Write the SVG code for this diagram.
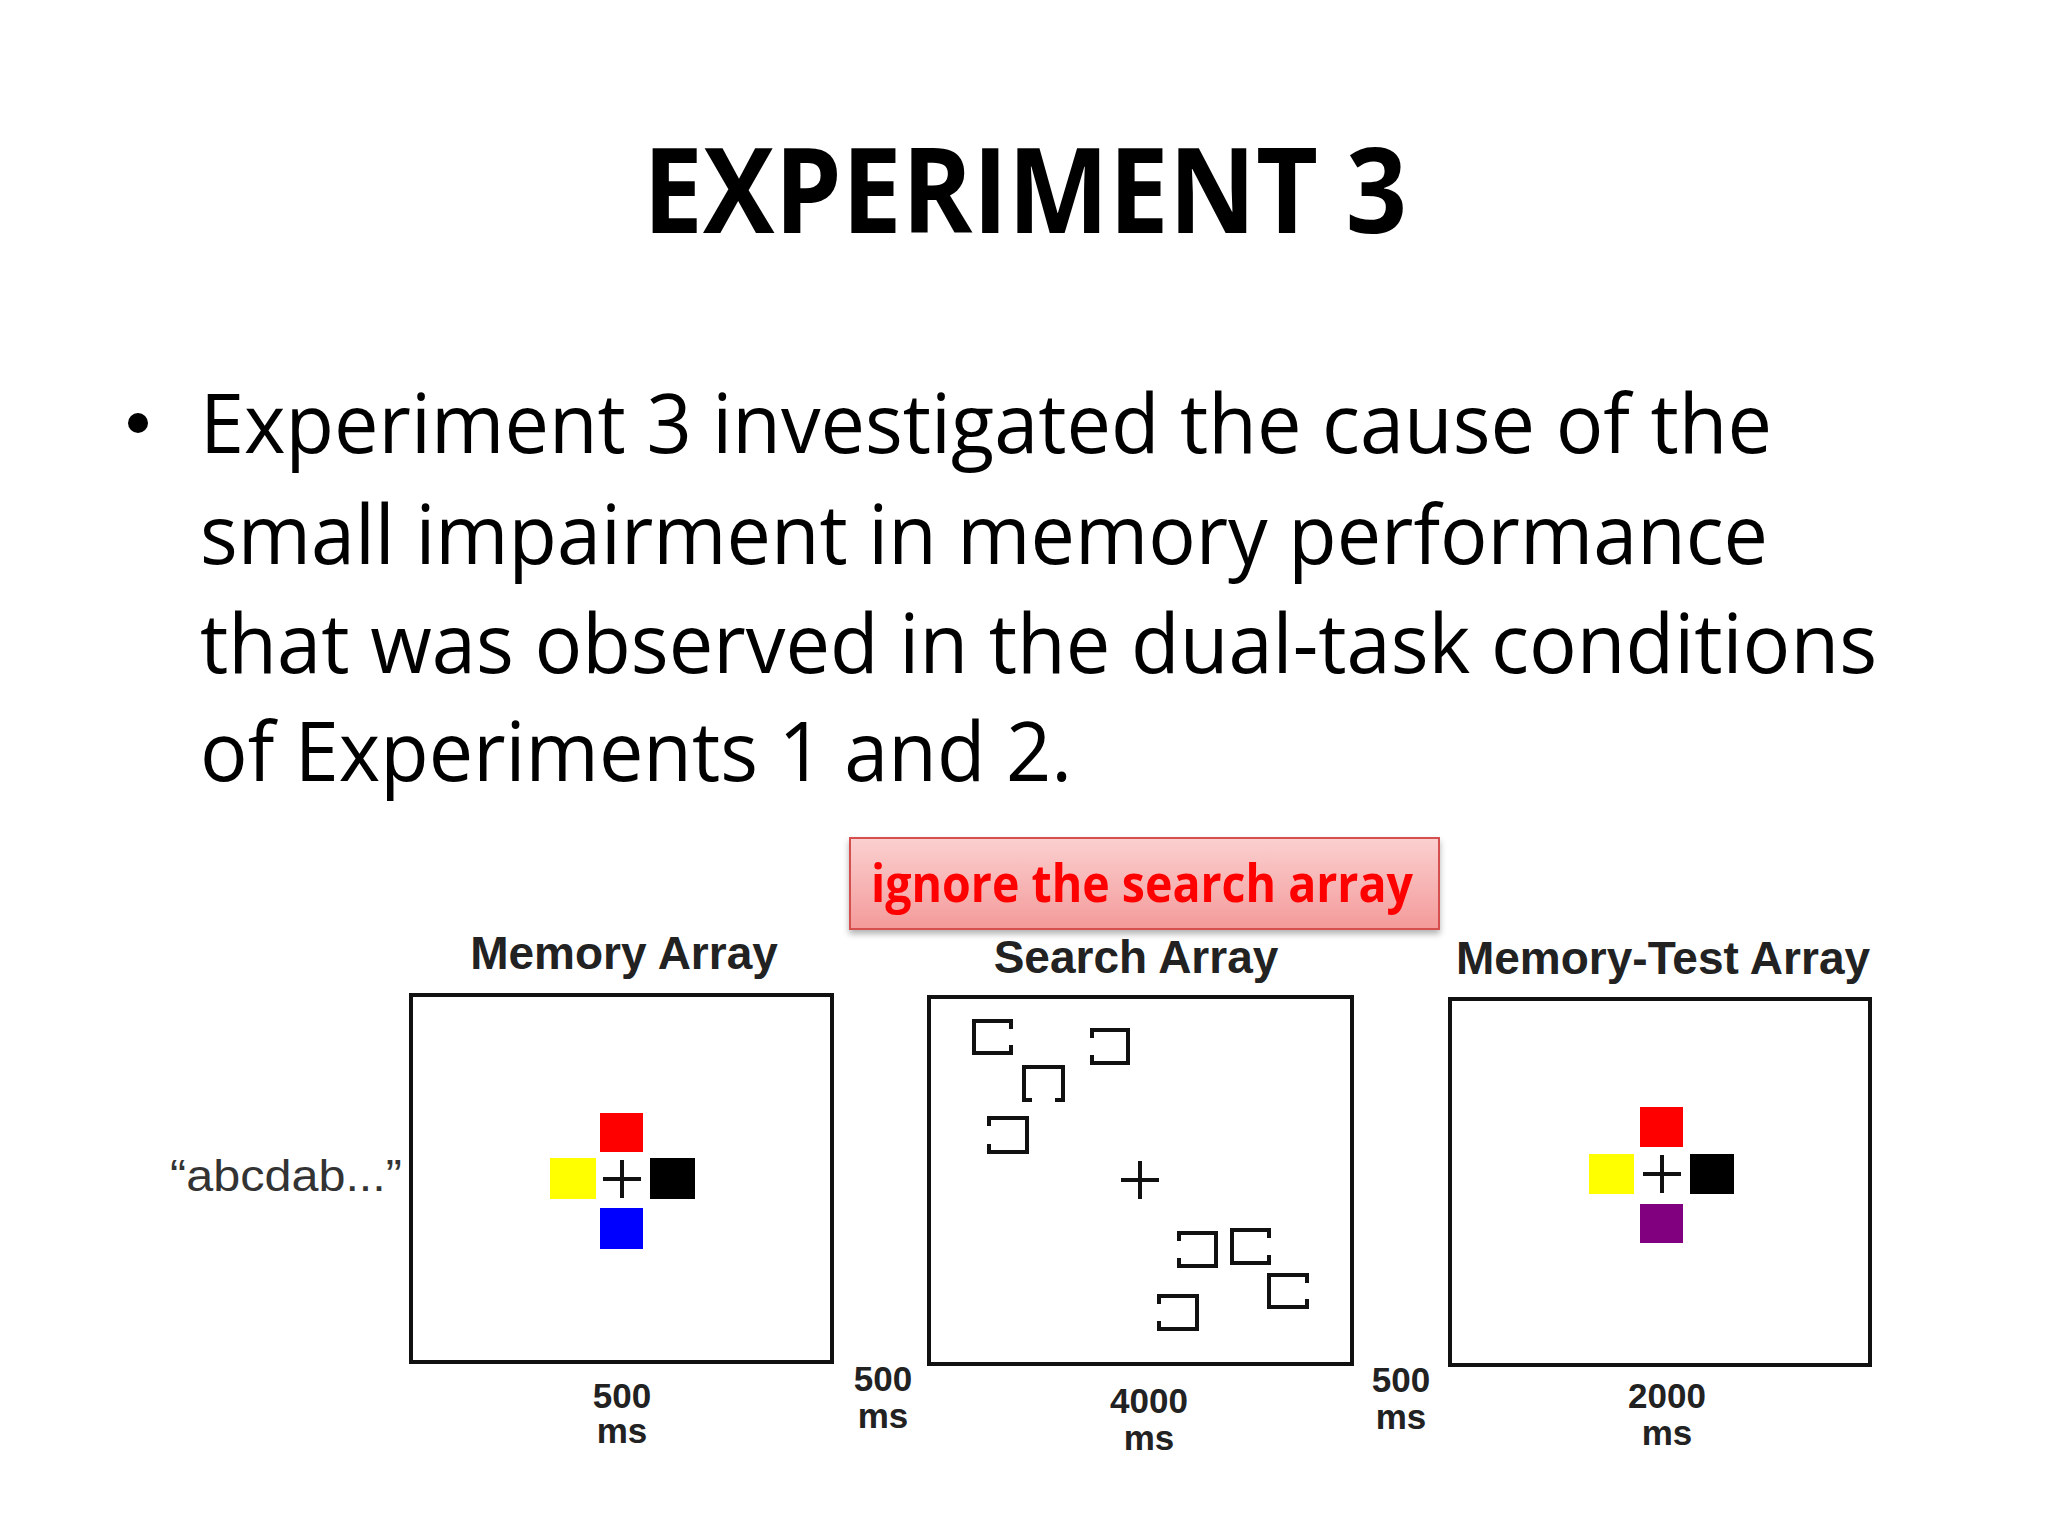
<svg xmlns="http://www.w3.org/2000/svg" width="2048" height="1536" viewBox="0 0 2048 1536">
<defs>
<linearGradient id="rg" x1="0" y1="0" x2="0" y2="1"><stop offset="0" stop-color="#fbd0d0"/><stop offset="1" stop-color="#f49a9a"/></linearGradient>
<filter id="sh" x="-5%" y="-20%" width="110%" height="150%"><feDropShadow dx="0" dy="4" stdDeviation="3" flood-opacity="0.3"/></filter>
</defs>
<style>
.t{font-family:"Open Sans","Noto Sans",sans-serif;fill:#000}
.h{font-family:"Liberation Sans",Arial,sans-serif;font-weight:bold;fill:#222;text-anchor:middle}
.box{fill:#fff;stroke:#111;stroke-width:4}
.br{fill:none;stroke:#111;stroke-width:4}
.pl{stroke:#111;stroke-width:4}
</style>
<rect width="2048" height="1536" fill="#fff"/>
<text class="t" x="1025" y="233" font-size="118" font-weight="bold" text-anchor="middle" textLength="764" lengthAdjust="spacingAndGlyphs">EXPERIMENT 3</text>
<g class="t" font-size="82">
<circle cx="138" cy="423" r="10" fill="#000"/>
<text x="200" y="453" textLength="1572" lengthAdjust="spacingAndGlyphs">Experiment 3 investigated the cause of the</text>
<text x="200" y="564" textLength="1568" lengthAdjust="spacingAndGlyphs">small impairment in memory performance</text>
<text x="200" y="673" textLength="1677" lengthAdjust="spacingAndGlyphs">that was observed in the dual-task conditions</text>
<text x="200" y="781" textLength="872" lengthAdjust="spacingAndGlyphs">of Experiments 1 and 2.</text>
</g>
<g id="callout">
<rect x="850" y="838" width="589" height="91" fill="url(#rg)" stroke="#d65050" stroke-width="2" filter="url(#sh)"/>
<text x="1142" y="902" font-family="Open Sans,Noto Sans,sans-serif" font-weight="bold" font-size="52" fill="#f00" text-anchor="middle" textLength="542" lengthAdjust="spacingAndGlyphs">ignore the search array</text>
</g>
<text x="170" y="1191" font-family="Liberation Sans,Arial,sans-serif" font-size="44" fill="#333" textLength="232" lengthAdjust="spacingAndGlyphs">“abcdab...”</text>
<g id="memory">
<text class="h" x="624" y="969" font-size="46">Memory Array</text>
<rect class="box" x="411" y="995" width="421" height="367"/>
<rect x="600" y="1113" width="43" height="39" fill="#f00"/>
<rect x="550" y="1158" width="46" height="41" fill="#ff0"/>
<rect x="650" y="1158" width="45" height="41" fill="#000"/>
<rect x="600" y="1208" width="43" height="41" fill="#00f"/>
<path class="pl" d="M603 1179H641M622 1160V1198"/>
<text class="h" x="622" y="1408" font-size="35">500</text>
<text class="h" x="622" y="1443" font-size="35">ms</text>
</g>
<g id="gap1"><text class="h" x="883" y="1391" font-size="35">500</text><text class="h" x="883" y="1428" font-size="35">ms</text></g>
<g id="search">
<text class="h" x="1136" y="973" font-size="46">Search Array</text>
<rect class="box" x="929" y="997" width="423" height="367"/>
<path class="br" d="M1011 1029V1021H974V1053H1011V1045"/>
<path class="br" d="M1092 1038V1030H1128V1063H1092V1055"/>
<path class="br" d="M1032 1100H1024V1067H1063V1100H1055"/>
<path class="br" d="M989 1126V1118H1027V1152H989V1144"/>
<path class="pl" d="M1121 1180H1159M1140 1161V1199"/>
<path class="br" d="M1179 1241V1233H1216V1266H1179V1258"/>
<path class="br" d="M1269 1238V1230H1232V1263H1269V1255"/>
<path class="br" d="M1307 1283V1275H1269V1307H1307V1299"/>
<path class="br" d="M1159 1304V1296H1197V1329H1159V1321"/>
<text class="h" x="1149" y="1413" font-size="35">4000</text>
<text class="h" x="1149" y="1450" font-size="35">ms</text>
</g>
<g id="gap2"><text class="h" x="1401" y="1392" font-size="35">500</text><text class="h" x="1401" y="1429" font-size="35">ms</text></g>
<g id="test">
<text class="h" x="1663" y="974" font-size="46">Memory-Test Array</text>
<rect class="box" x="1450" y="999" width="420" height="366"/>
<rect x="1640" y="1107" width="43" height="40" fill="#f00"/>
<rect x="1589" y="1154" width="45" height="40" fill="#ff0"/>
<rect x="1690" y="1154" width="44" height="40" fill="#000"/>
<rect x="1640" y="1204" width="43" height="39" fill="#800080"/>
<path class="pl" d="M1643 1174H1681M1662 1155V1193"/>
<text class="h" x="1667" y="1408" font-size="35">2000</text>
<text class="h" x="1667" y="1445" font-size="35">ms</text>
</g>
</svg>
